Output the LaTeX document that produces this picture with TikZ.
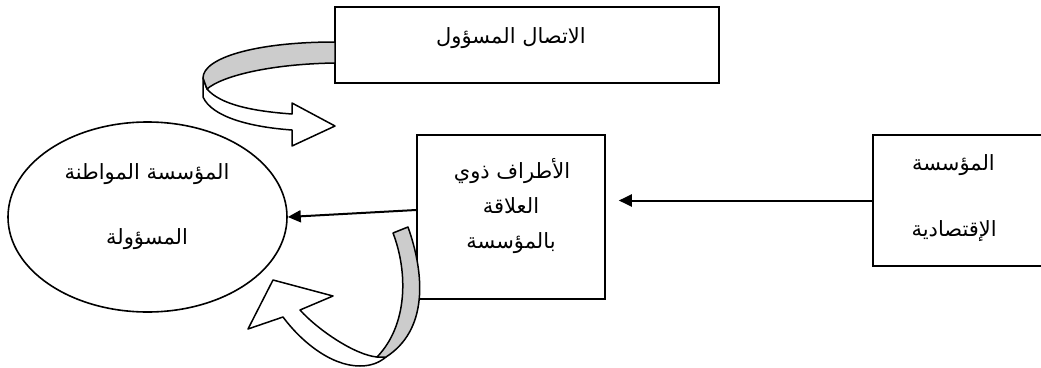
\documentclass[tikz,border=0pt]{standalone}
\usepackage{fontspec}
\usetikzlibrary{arrows.meta,shapes.geometric}
\newfontfamily\arabicfont[Script=Arabic]{DejaVu Sans}
\TeXXeTstate=1
\definecolor{bandgray}{RGB}{204,204,204}
\begin{document}
\begin{tikzpicture}[x=1pt,y=-1pt,
  boxnode/.style={draw, line width=1.6pt, inner sep=0pt, fill=white},
  lbl/.style={font=\arabicfont\fontsize{21}{25}\selectfont, inner sep=0pt},
  conn/.style={line width=2pt, -{Triangle[length=13pt,width=12pt]}},
  band/.style={draw, line width=1.5pt, line join=round}]
\clip (0,0) rectangle (1041,367);
\fill[white] (0,0) rectangle (1041,367);
% boxes
\node[boxnode, minimum width=384pt, minimum height=76pt] (top) at (527,45) {};
\node[boxnode, minimum width=188pt, minimum height=164pt] (mid) at (511,217) {};
\node[boxnode, minimum width=200pt, minimum height=131pt] (right) at (973,200.5) {};
\node[boxnode, ellipse, minimum width=279pt, minimum height=190pt] (ell) at (147.5,217) {};
% texts
\node[lbl] (t1) at (511,38) {\beginR الاتصال المسؤول\endR};
\node[lbl] (m1) at (512,171) {\beginR الأطراف ذوي\endR};
\node[lbl] (m2) at (511,206) {\beginR العلاقة\endR};
\node[lbl] (m3) at (511,243) {\beginR بالمؤسسة\endR};
\node[lbl, anchor=east] (r1) at (995,165) {\beginR المؤسسة\endR};
\node[lbl, anchor=east] (r2) at (997,231) {\beginR الإقتصادية\endR};
\node[lbl] (e1) at (147,174) {\beginR المؤسسة المواطنة\endR};
\node[lbl] (e2) at (147,239) {\beginR المسؤولة\endR};
% straight connectors
\draw[conn, shorten >=13pt] (right.west) -- (right.west -| mid.east);
\draw[conn] ([yshift=7pt]mid.west) -- (ell.east);
% top curved arrow
\draw[band, fill=white] (203,78) -- (203,97) .. controls (212,117) and (250,127) .. (292,130)
  -- (292,146) -- (335,126) -- (292,103) -- (292,114)
  .. controls (250,111) and (220,104) .. (207,89) -- cycle;
\draw[band, fill=bandgray] (335,42) .. controls (255,42) and (203,58) .. (203,78)
  -- (207,89) .. controls (222,76) and (270,64) .. (335,63) -- cycle;
% bottom curved arrow
\draw[band, fill=white] (377,357) .. controls (355,355) and (318,330) .. (300,310)
  -- (333,296) -- (273,280) -- (248,329) -- (283,317)
  .. controls (300,340) and (330,366) .. (360,366)
  .. controls (372,366) and (380,362) .. (386,357) -- cycle;
\draw[band, fill=bandgray] (393,233) -- (408,227) .. controls (425,275) and (428,330) .. (386,357)
  -- (377,357) .. controls (408,325) and (408,272) .. (393,233) -- cycle;
\end{tikzpicture}
\end{document}
